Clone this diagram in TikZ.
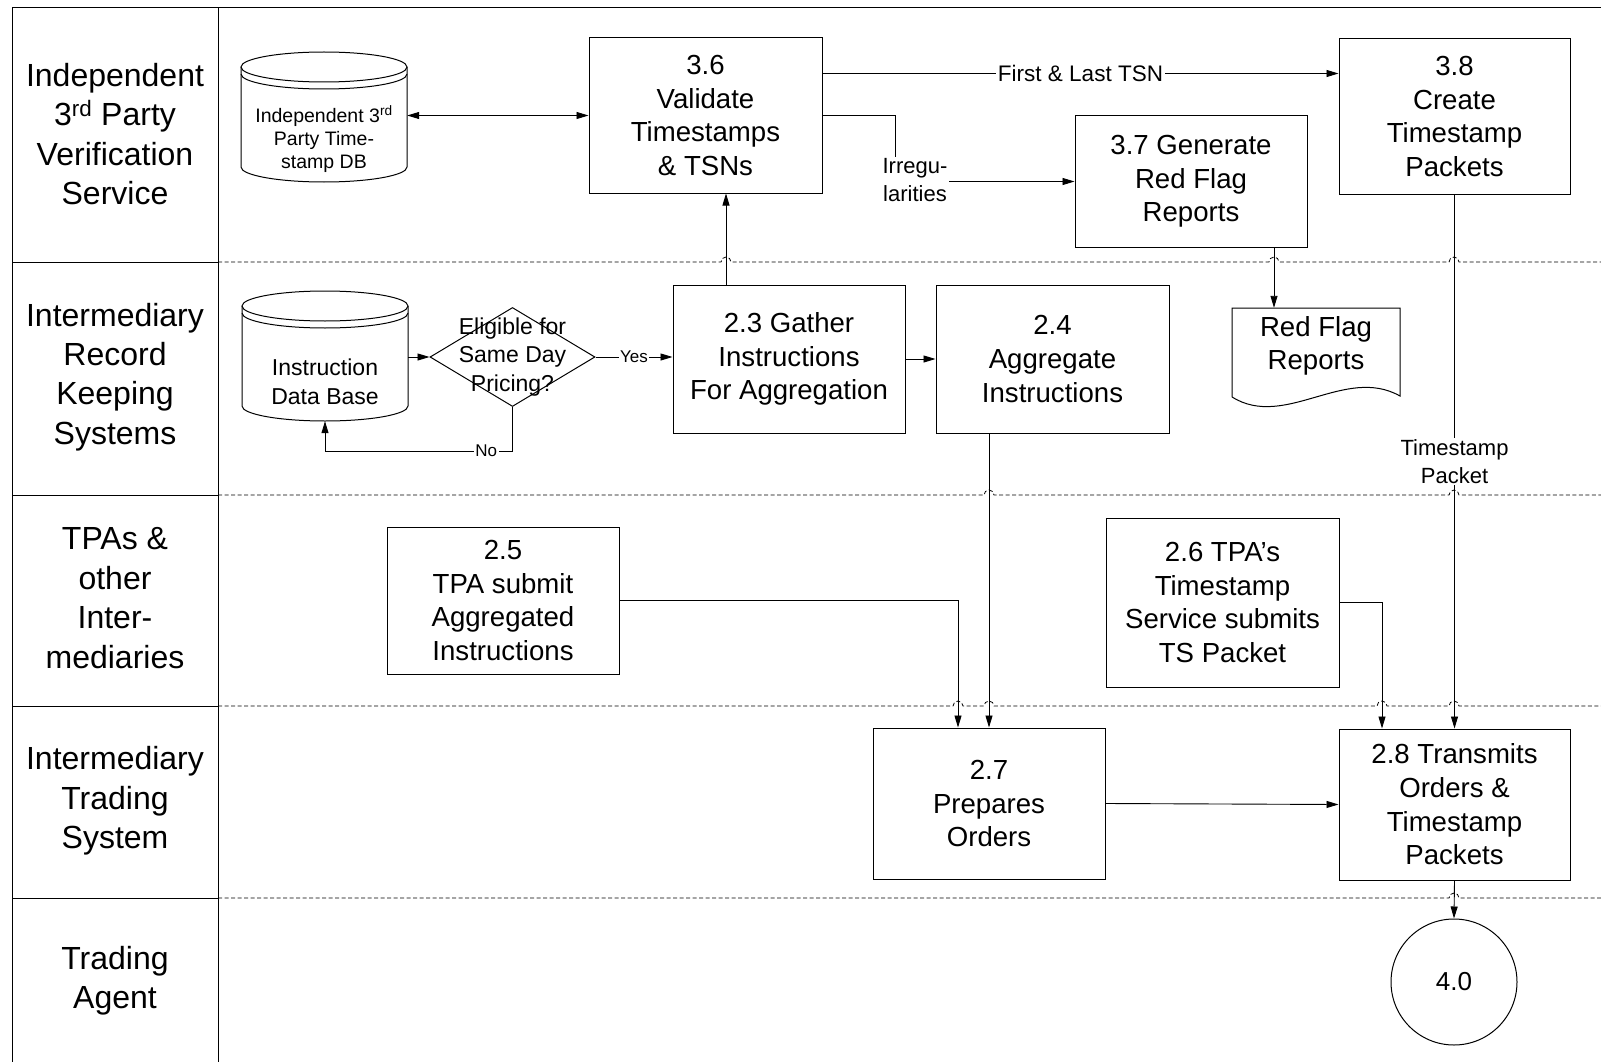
\documentclass[tikz,border=0pt]{standalone}
\usepackage{fontspec}
\setmainfont{Liberation Sans}
\usetikzlibrary{arrows.meta,calc,shapes.geometric}
\begin{document}
\begin{tikzpicture}[x=1pt,y=-1pt,
  every node/.style={inner sep=0pt},
  proc/.style={draw, line width=1pt, align=center, font=\fontsize{27.6}{33.7}\selectfont},
  lane/.style={align=center, font=\fontsize{32}{39.4}\selectfont},
  conn/.style={line width=0.9pt},
  tip/.tip={Triangle[length=12pt,width=7pt]},
  arr/.style={conn, -tip},
  lbl/.style={fill=white, align=center, inner sep=1.5pt},
  shapeline/.style={line width=1pt},
  sepline/.style={line width=0.8pt, dash pattern=on 4pt off 2.5pt},
  frame/.style={line width=1pt}]
\useasboundingbox (0,0) rectangle (1601,1062);

% ---------- lane frame ----------
\draw[frame] (12,8) -- (1601,8);
\draw[frame] (12,8) -- (12,1062);
\draw[frame] (218,8) -- (218,1062);
\foreach \yy in {262,495,706,898} {\draw[frame] (12,\yy) -- (218,\yy);}
\draw[sepline] (218,262) \foreach \c in {726,1274,1454} { -- (\c-5,262) arc[start angle=180,end angle=0,radius=5pt] } -- (1601,262);
\draw[sepline] (218,495) \foreach \c in {989,1454} { -- (\c-5,495) arc[start angle=180,end angle=0,radius=5pt] } -- (1601,495);
\draw[sepline] (218,706) \foreach \c in {958,989,1382,1454} { -- (\c-5,706) arc[start angle=180,end angle=0,radius=5pt] } -- (1601,706);
\draw[sepline] (218,898) \foreach \c in {1454} { -- (\c-5,898) arc[start angle=180,end angle=0,radius=5pt] } -- (1601,898);

% ---------- lane labels ----------
\node[lane] (l1) at (115,134) {Independent\\3\textsuperscript{rd} Party\\Verification\\Service};
\node[lane] (l2) at (115,377) {Intermediary\\Record\\Keeping\\Systems};
\node[lane] (l3) at (115,598) {TPAs \&\\other\\Inter-\\mediaries};
\node[lane] (l4) at (115,801) {Intermediary\\Trading\\System};
\node[lane] (l5) at (115,981) {Trading\\Agent};

% ---------- databases ----------
\node[minimum width=166pt, minimum height=130pt] (db1) at (324,117) {};
\draw[shapeline] (324,67) ellipse [x radius=83pt, y radius=15pt];
\draw[shapeline] (241,74) arc[start angle=180,end angle=360,x radius=83pt,y radius=15pt];
\draw[shapeline] (241,67) -- (241,167) arc[start angle=180,end angle=360,x radius=83pt,y radius=15pt] -- (407,67);
\node[align=center, font=\fontsize{19.5}{23}\selectfont] (db1t) at (324,139) {Independent 3\textsuperscript{rd}\\Party Time-\\stamp DB};

\node[minimum width=166pt, minimum height=130pt] (db2) at (325,356) {};
\draw[shapeline] (325,306) ellipse [x radius=83pt, y radius=15pt];
\draw[shapeline] (242,313) arc[start angle=180,end angle=360,x radius=83pt,y radius=15pt];
\draw[shapeline] (242,306) -- (242,406) arc[start angle=180,end angle=360,x radius=83pt,y radius=15pt] -- (408,306);
\node[align=center, font=\fontsize{23}{28.6}\selectfont] (db2t) at (325,382) {Instruction\\Data Base};

% ---------- decision ----------
\node[diamond, draw, shapeline, minimum width=165pt, minimum height=99pt] (dia) at (512.5,357) {};
\node[align=center, font=\fontsize{23}{28.6}\selectfont] (diat) at (512.5,357) {Eligible for\\Same Day\\Pricing?};

% ---------- process boxes ----------
\node[proc, minimum width=233pt, minimum height=155pt] (b36) at (705.5,115.5) {3.6\\Validate\\Timestamps\\\& TSNs};
\node[proc, minimum width=231pt, minimum height=155pt] (b38) at (1454.5,116.5) {3.8\\Create\\Timestamp\\Packets};
\node[proc, minimum width=232pt, minimum height=131pt] (b37) at (1191,181.5) {3.7 Generate\\Red Flag\\Reports};
\node[proc, minimum width=232pt, minimum height=148pt] (b23) at (789,359) {2.3 Gather\\Instructions\\For Aggregation};
\node[proc, minimum width=233pt, minimum height=148pt] (b24) at (1052.5,359) {2.4\\Aggregate\\Instructions};
\node[proc, minimum width=232pt, minimum height=147pt] (b25) at (503,600.5) {2.5\\TPA submit\\Aggregated\\Instructions};
\node[proc, minimum width=233pt, minimum height=169pt] (b26) at (1222.5,602.5) {2.6 TPA’s\\Timestamp\\Service submits\\TS Packet};
\node[proc, minimum width=232pt, minimum height=151pt] (b27) at (989,803.5) {2.7\\Prepares\\Orders};
\node[proc, minimum width=231pt, minimum height=151pt] (b28) at (1454.5,804.5) {2.8 Transmits\\Orders \&\\Timestamp\\Packets};
\node[draw, shapeline, circle, minimum size=126pt, font=\fontsize{26}{30}\selectfont] (c40) at (1454,982) {4.0};

% ---------- red flag report document ----------
\node[align=center, minimum width=168pt, minimum height=76pt, font=\fontsize{27.6}{33.7}\selectfont] (rfr) at (1316,346) {Red Flag\\Reports};
\draw[shapeline] (1232,397) -- (1232,308) -- (1400,308) -- (1400,396)
  .. controls (1345,365) and (1285,430) .. (1232,397);

% ---------- connectors ----------
\draw[conn, tip-tip] (db1.east |- b36.west) -- (b36.west);
\draw[arr] ([yshift=42pt]b36.east) -- node[lbl, font=\fontsize{22.5}{26}\selectfont] (flt) {First \& Last TSN} ([yshift=42pt]b36.east -| b38.west);
\coordinate (irrc) at (895,181.5);
\draw[arr] (b36.east) -| (irrc) -- (b37.west);
\node[lbl, font=\fontsize{22}{27.6}\selectfont] (irr) at (915,180) {Irregu-\\larities};
\draw[arr] ([xshift=-63pt]b23.north) -- ([xshift=-63pt]b23.north |- b36.south);
\draw[arr] (db2.east |- dia.west) -- (dia.west);
\draw[arr] (dia.east) -- node[lbl, font=\fontsize{17}{20}\selectfont] (yes) {Yes} (dia.east -| b23.west);
\coordinate (nocorner) at (512.5,451);
\draw[arr] (dia.south) -- (nocorner) -- node[lbl, pos=0.14, font=\fontsize{17}{20}\selectfont] (no) {No} (nocorner -| db2.south) -- (db2.south);
\draw[arr] (b23.east) -- (b24.west);
\draw[arr] ([xshift=83pt]b37.south) -- ([xshift=83pt]b37.south |- rfr.north);
\draw[arr] (b38.south) -- node[lbl, font=\fontsize{22}{28}\selectfont] (tsp) {Timestamp\\Packet} (b28.north);
\draw[arr] (b24.south -| b27.north) -- (b27.north);
\draw[arr] (b25.east) -| ([xshift=-31pt]b27.north);
\draw[arr] (b26.east) -| ([xshift=-72.5pt]b28.north);
\draw[arr] (b27.east) -- (b28.west);
\draw[arr] (b28.south) -- (c40.north);
\end{tikzpicture}
\end{document}
